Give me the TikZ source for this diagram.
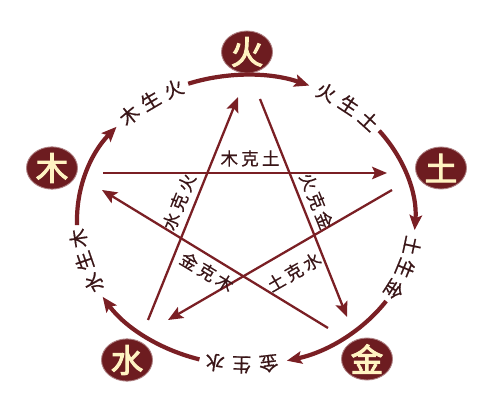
\documentclass[tikz,border=0pt]{standalone}
\usepackage{fontspec}
\newfontfamily\cjk[FakeBold=0.6]{Noto Sans CJK SC}
\newfontfamily\kefont[LetterSpace=18,FakeBold=0.4]{Noto Sans CJK SC}
\newfontfamily\elfont[FakeBold=3]{Noto Sans CJK SC}
\usetikzlibrary{arrows.meta,shapes.geometric}
\definecolor{wxred}{HTML}{7A1F24}
\definecolor{wxfill}{HTML}{6D1C20}
\definecolor{wxcream}{HTML}{FFF3C2}
\definecolor{wxtext}{HTML}{3A1618}
\tikzset{
  element/.style={ellipse,fill=wxfill,draw=wxfill!55!white,line width=.5pt,minimum width=1.02cm,minimum height=.84cm,inner sep=0pt,text=wxcream,font=\elfont\fontsize{18.5}{18.5}\selectfont},
  sheng/.style={wxred,line width=2.4pt,-{Stealth[length=3mm,width=2.5mm,inset=.6mm]}},
  ke/.style={wxred,line width=1.3pt,-{Stealth[length=3mm,width=2.5mm,inset=.6mm]}},
  kelabel/.style={text=wxtext,font=\kefont\fontsize{10}{10}\selectfont,inner sep=1pt},
  shenglabel/.style={text=wxtext,font=\cjk\fontsize{11}{11}\selectfont,inner sep=0pt}
}
\begin{document}
\begin{tikzpicture}
  \useasboundingbox (0,0) rectangle (10,8);
  \coordinate (c) at (4.92,3.6);
  % the five elements
  \node [element] (fire) at (4.94,6.96) {火};
  \node [element] (wood) at (1.04,4.64) {木};
  \node [element] (earth) at (8.82,4.64) {土};
  \node [element] (water) at (2.54,0.80) {水};
  \node [element] (metal) at (7.34,0.82) {金};
  % generating cycle
  \foreach \k in {0,...,4} {
    \pgfmathsetmacro\st{110-72*\k}
    \pgfmathsetmacro\en{\st-42}
    \path (c) ++(\st:3.38 and 2.9) coordinate (s\k);
    \draw [sheng] (s\k) arc [start angle=\st,end angle=\en,x radius=3.38,y radius=2.9];
  }
  \foreach \k/\ca/\cb/\cc in {0/火/生/土,1/土/生/金,2/金/生/水,3/水/生/木,4/木/生/火} {
    \foreach \ch [count=\j from 0] in {\ca,\cb,\cc} {
      \pgfmathsetmacro\ang{61.7-72*\k-9.2*\j}
      \pgfmathsetmacro\rot{atan2(-2.9*cos(\ang),3.38*sin(\ang))}
      \path (c) ++(\ang:3.38 and 2.9) node [shenglabel,rotate=\rot] (g\k\j) {\ch};
    }
  }
  % overcoming star
  \coordinate (k1a) at (2.06,4.54); \coordinate (k1b) at (7.74,4.54);
  \coordinate (k2a) at (2.96,1.60); \coordinate (k2b) at (4.76,6.06);
  \coordinate (k3a) at (5.20,6.02); \coordinate (k3b) at (6.94,1.66);
  \coordinate (k4a) at (7.84,4.20); \coordinate (k4b) at (3.36,1.60);
  \coordinate (k5a) at (6.56,1.44); \coordinate (k5b) at (2.04,4.20);
  \draw [ke] (k1a) -- (k1b);
  \draw [ke] (k2a) -- (k2b);
  \draw [ke] (k3a) -- (k3b);
  \draw [ke] (k4a) -- (k4b);
  \draw [ke] (k5a) -- (k5b);
  \node [kelabel] (t1) at (5.0,4.83) {木克土};
  \node [kelabel,rotate=68] (t2) at (3.58,3.96) {水克火};
  \node [kelabel,rotate=-68] (t3) at (6.33,3.98) {火克金};
  \node [kelabel,rotate=30] (t4) at (5.88,2.56) {土克水};
  \node [kelabel,rotate=-31] (t5) at (4.14,2.56) {金克木};
\end{tikzpicture}
\end{document}
